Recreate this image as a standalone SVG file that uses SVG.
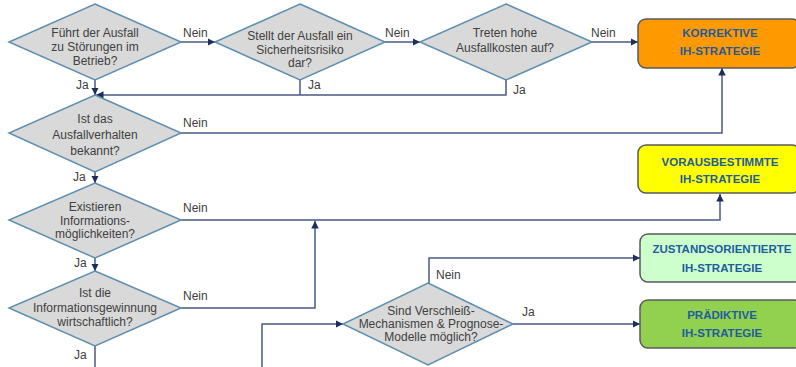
<svg xmlns="http://www.w3.org/2000/svg" width="796" height="367" viewBox="0 0 796 367">
<style>
.dia{fill:#D9D9D9;stroke:#5E8FAF;stroke-width:1.5}
.dt{font-family:"Liberation Sans",Arial,sans-serif;font-size:12px;fill:#404040;text-anchor:middle}
.lbl{font-family:"Liberation Sans",Arial,sans-serif;font-size:12px;fill:#404040}
.box{stroke:#595959;stroke-width:1.5}
.bt{font-family:"Liberation Sans",Arial,sans-serif;font-size:11.5px;font-weight:bold;fill:#1F5C9E;text-anchor:middle}
.con{fill:none;stroke:#4A5A85;stroke-width:1.5}
.arr{marker-end:url(#ah)}
</style>
<defs>
<marker id="ah" viewBox="0 0 10 10" refX="10" refY="5" markerWidth="5" markerHeight="5" markerUnits="strokeWidth" orient="auto">
<path d="M0,0 L10,5 L0,10 z" fill="#1F2D5C"/>
</marker>
</defs>
<rect width="796" height="367" fill="#FFFFFF"/>
<g id="connectors">
<path class="con arr" d="M181,42 H215"/>
<path class="con arr" d="M385,42 H420"/>
<path class="con arr" d="M592,42 H638"/>
<path class="con arr" d="M95,80 V95"/>
<path class="con" d="M300,80 V95"/>
<path class="con arr" d="M506,80 V95 H96"/>
<path class="con arr" d="M181,133 H722 V68"/>
<path class="con arr" d="M95,172 V183"/>
<path class="con arr" d="M181,220 H720 V194"/>
<path class="con arr" d="M95,258 V271"/>
<path class="con arr" d="M181,308 H315 V221"/>
<path class="con" d="M95,346 V367"/>
<path class="con arr" d="M262,367 V324 H343"/>
<path class="con arr" d="M429,283 V258 H640"/>
<path class="con arr" d="M513,324 H640"/>
<text class="lbl" x="183" y="37">Nein</text>
<text class="lbl" x="385" y="37">Nein</text>
<text class="lbl" x="591" y="37">Nein</text>
<text class="lbl" x="76" y="89">Ja</text>
<text class="lbl" x="308" y="89">Ja</text>
<text class="lbl" x="513" y="94">Ja</text>
<text class="lbl" x="183" y="127">Nein</text>
<text class="lbl" x="73" y="181">Ja</text>
<text class="lbl" x="183" y="212">Nein</text>
<text class="lbl" x="74" y="267">Ja</text>
<text class="lbl" x="183" y="300">Nein</text>
<text class="lbl" x="74" y="359">Ja</text>
<text class="lbl" x="436" y="279">Nein</text>
<text class="lbl" x="522" y="316">Ja</text>
</g>
<g id="d1">
<polygon class="dia" points="95,4 181,42 95,80 9,42"/>
<text class="dt" x="95" y="37">Führt der Ausfall</text>
<text class="dt" x="95" y="51">zu Störungen im</text>
<text class="dt" x="95" y="65">Betrieb?</text>
</g>
<g id="d2">
<polygon class="dia" points="300,4 385,42 300,80 215,42"/>
<text class="dt" x="300" y="40">Stellt der Ausfall ein</text>
<text class="dt" x="300" y="54">Sicherheitsrisiko</text>
<text class="dt" x="300" y="67">dar?</text>
</g>
<g id="d3">
<polygon class="dia" points="506,4 592,42 506,80 420,42"/>
<text class="dt" x="505" y="37">Treten hohe</text>
<text class="dt" x="505" y="52">Ausfallkosten auf?</text>
</g>
<g id="d4">
<polygon class="dia" points="95,95 181,133 95,172 9,133"/>
<text class="dt" x="95" y="123">Ist das</text>
<text class="dt" x="95" y="139">Ausfallverhalten</text>
<text class="dt" x="95" y="155">bekannt?</text>
</g>
<g id="d5">
<polygon class="dia" points="95,183 181,220 95,258 9,220"/>
<text class="dt" x="95" y="211">Existieren</text>
<text class="dt" x="95" y="225">Informations-</text>
<text class="dt" x="95" y="238">möglichkeiten?</text>
</g>
<g id="d6">
<polygon class="dia" points="95,271 181,308 95,346 9,308"/>
<text class="dt" x="95" y="297">Ist die</text>
<text class="dt" x="95" y="312">Informationsgewinnung</text>
<text class="dt" x="95" y="326">wirtschaftlich?</text>
</g>
<g id="d7">
<polygon class="dia" points="428,283 513,324 428,365 343,324"/>
<text class="dt" x="431" y="315">Sind Verschleiß-</text>
<text class="dt" x="431" y="328">Mechanismen &amp; Prognose-</text>
<text class="dt" x="431" y="341">Modelle möglich?</text>
</g>
<g id="b1">
<rect class="box" x="638" y="19" width="162" height="49" rx="8" fill="#FF9900"/>
<text class="bt" x="720" y="37">KORREKTIVE</text>
<text class="bt" x="720" y="55">IH-STRATEGIE</text>
</g>
<g id="b2">
<rect class="box" x="638" y="145" width="162" height="48" rx="8" fill="#FFFF00"/>
<text class="bt" x="720" y="166">VORAUSBESTIMMTE</text>
<text class="bt" x="720" y="183">IH-STRATEGIE</text>
</g>
<g id="b3">
<rect class="box" x="640" y="234" width="162" height="48" rx="8" fill="#CCFFCC"/>
<text class="bt" x="722" y="253">ZUSTANDSORIENTIERTE</text>
<text class="bt" x="722" y="272">IH-STRATEGIE</text>
</g>
<g id="b4">
<rect class="box" x="640" y="300" width="162" height="48" rx="8" fill="#92D050"/>
<text class="bt" x="722" y="319">PRÄDIKTIVE</text>
<text class="bt" x="722" y="337">IH-STRATEGIE</text>
</g>
</svg>
